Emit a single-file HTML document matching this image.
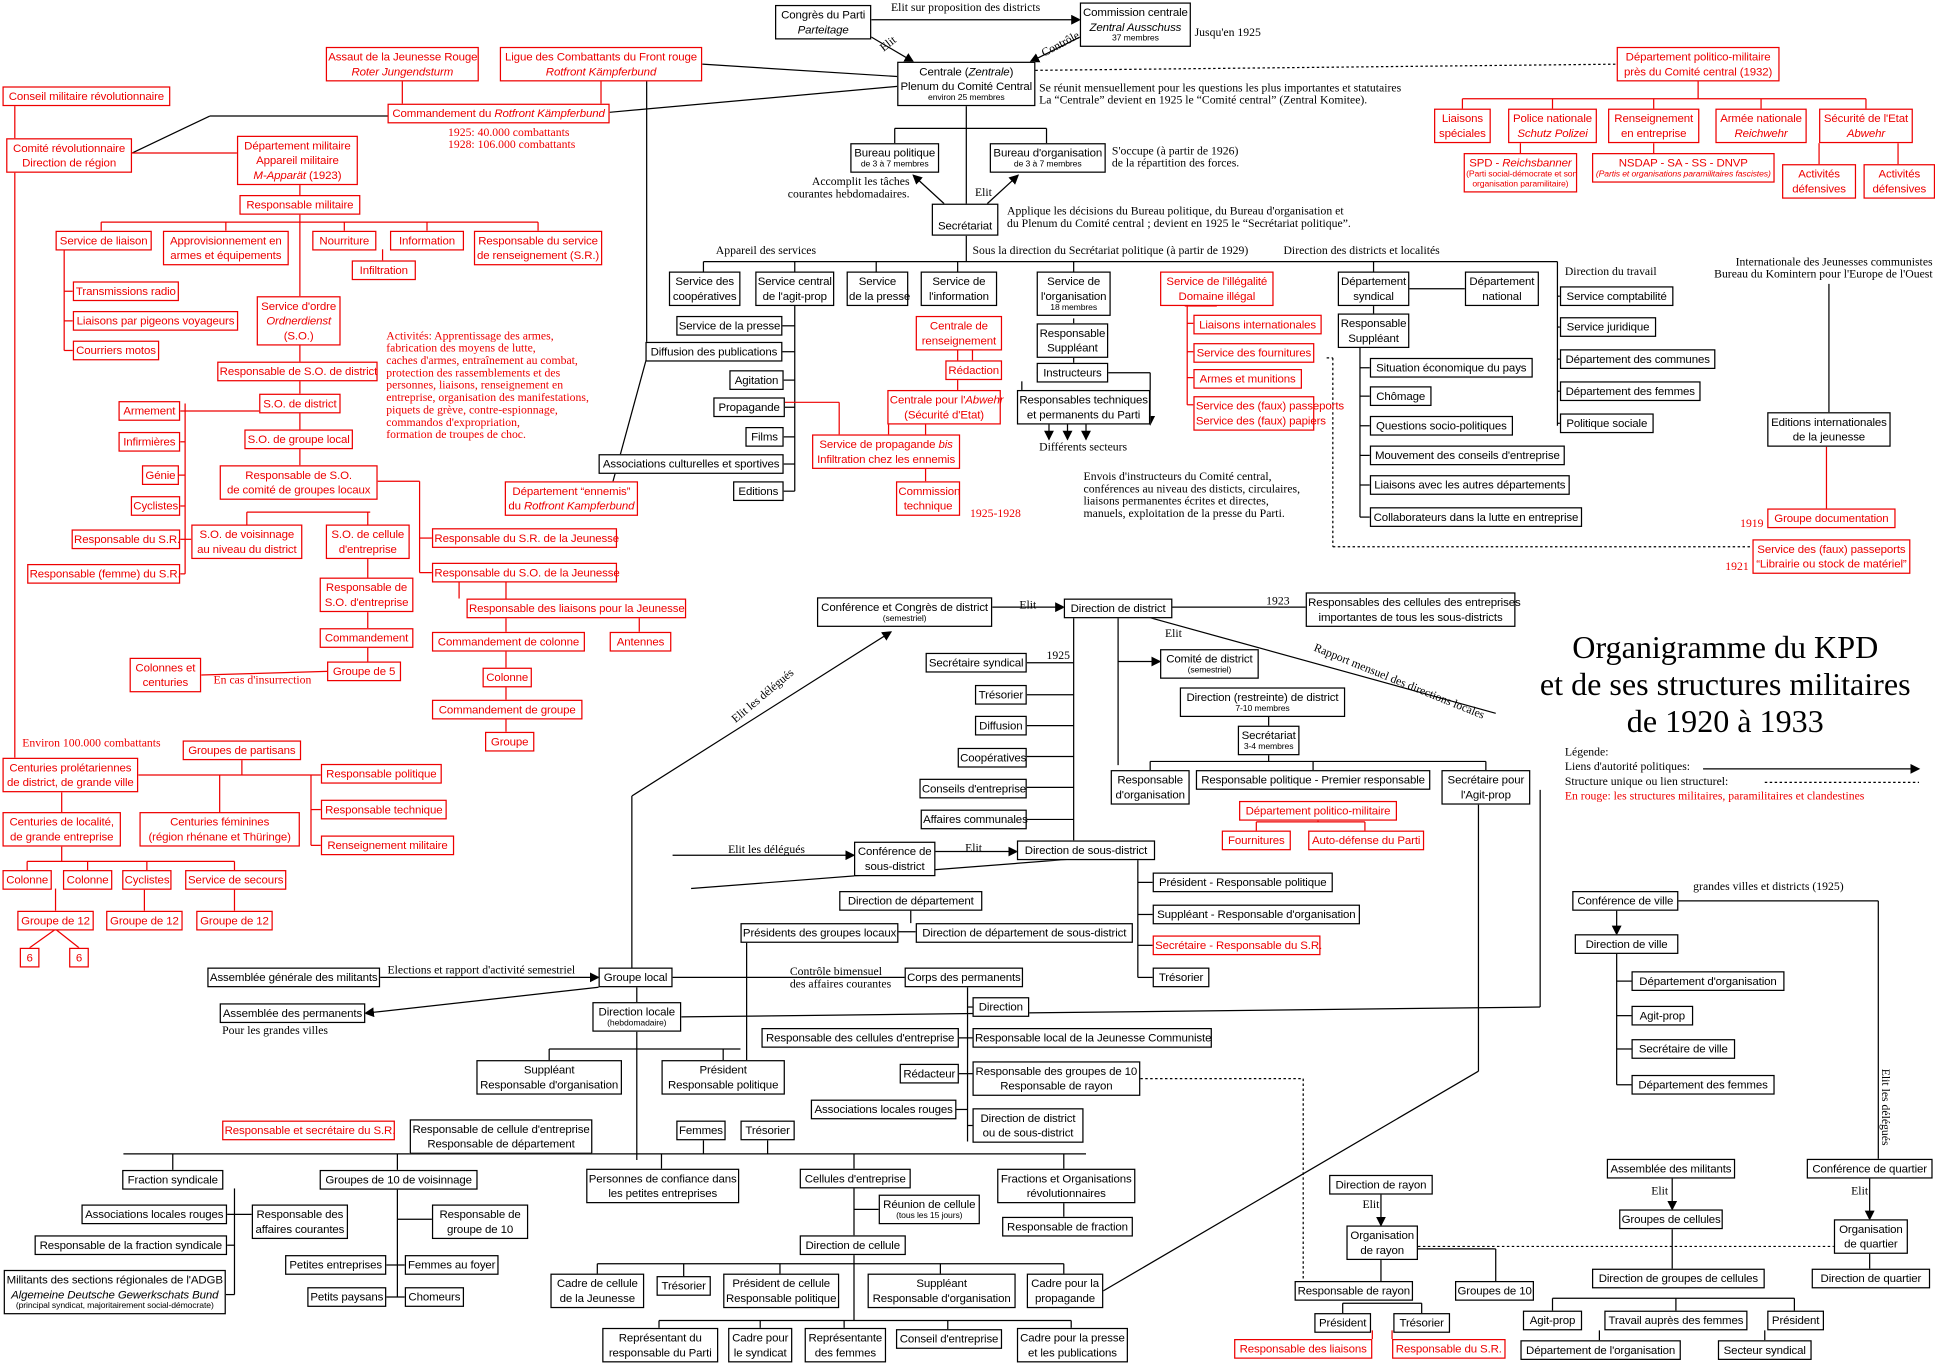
<!DOCTYPE html>
<html><head><meta charset="utf-8"><style>
html,body{margin:0;padding:0;background:#fff;width:1935px;height:1363px;overflow:hidden}
#w{position:absolute;left:0;top:0;width:1568px;height:1104px;transform:scale(1.2341);transform-origin:0 0;font-family:"Liberation Sans",sans-serif}
.b{position:absolute;border:1px solid #000;background:#fff;font-size:9.3px;line-height:12px;padding:1px 1px;text-align:center;white-space:nowrap;box-sizing:border-box;z-index:2;letter-spacing:-0.1px}
.r{color:#e00;border-color:#e00}
.t{position:absolute;font-family:"Liberation Serif",serif;font-size:9.5px;line-height:10px;white-space:nowrap;z-index:2}
.s{font-size:7px;line-height:8px;display:block}
svg{position:absolute;left:0;top:0;z-index:1}
</style></head><body><div id="w">
<svg width="1568" height="1104" viewBox="0 0 1568 1104">
<defs><marker id="a" markerWidth="8" markerHeight="8" refX="7" refY="4" orient="auto"><path d="M0,0 L8,4 L0,8z" fill="#000"/></marker></defs>
<g stroke="#000" stroke-width="1" fill="none">
<line x1="706" y1="16" x2="875" y2="16" marker-end="url(#a)"/>
<line x1="706" y1="30" x2="740" y2="50" marker-end="url(#a)"/>
<line x1="875" y1="30" x2="835" y2="50" marker-end="url(#a)"/>
<line x1="569" y1="52" x2="727" y2="62"/>
<line x1="783" y1="86" x2="783" y2="165"/>
<line x1="725" y1="104" x2="848" y2="104"/><line x1="725" y1="104" x2="725" y2="116"/><line x1="848" y1="104" x2="848" y2="116"/>
<line x1="765" y1="165" x2="740" y2="142" marker-end="url(#a)"/>
<line x1="800" y1="165" x2="825" y2="142" marker-end="url(#a)"/>
<line x1="783" y1="191" x2="783" y2="212"/>
<line x1="570" y1="212" x2="1262" y2="212"/>
<line x1="570" y1="212" x2="570" y2="220"/><line x1="644" y1="212" x2="644" y2="220"/><line x1="710" y1="212" x2="710" y2="220"/><line x1="776" y1="212" x2="776" y2="220"/><line x1="870" y1="212" x2="870" y2="220"/><line x1="1113" y1="212" x2="1113" y2="220"/><line x1="1262" y1="212" x2="1262" y2="345"/>
<line x1="1262" y1="240" x2="1264" y2="240"/><line x1="1262" y1="265" x2="1264" y2="265"/><line x1="1262" y1="291" x2="1264" y2="291"/><line x1="1262" y1="317" x2="1264" y2="317"/><line x1="1262" y1="343" x2="1264" y2="343"/>
<line x1="644" y1="248" x2="644" y2="398"/>
<line x1="634" y1="264" x2="644" y2="264"/><line x1="634" y1="285" x2="644" y2="285"/><line x1="635" y1="308" x2="644" y2="308"/><line x1="636" y1="330" x2="644" y2="330"/><line x1="635" y1="354" x2="644" y2="354"/><line x1="635" y1="376" x2="644" y2="376"/><line x1="635" y1="398" x2="644" y2="398"/>
<line x1="870" y1="258" x2="870" y2="262"/><line x1="870" y1="290" x2="870" y2="294"/><line x1="840" y1="302" x2="932" y2="302"/><line x1="932" y1="302" x2="932" y2="344" marker-end="url(#a)"/>
<line x1="828" y1="316" x2="828" y2="309"/>
<line x1="850" y1="344" x2="850" y2="356" marker-end="url(#a)"/><line x1="865" y1="344" x2="865" y2="356" marker-end="url(#a)"/><line x1="880" y1="344" x2="880" y2="356" marker-end="url(#a)"/>
<line x1="1142" y1="234" x2="1187" y2="234"/><line x1="1113" y1="248" x2="1113" y2="254"/>
<line x1="1102" y1="282" x2="1102" y2="419"/>
<line x1="1102" y1="298" x2="1110" y2="298"/><line x1="1102" y1="321" x2="1110" y2="321"/><line x1="1102" y1="345" x2="1110" y2="345"/><line x1="1102" y1="369" x2="1110" y2="369"/><line x1="1102" y1="393" x2="1110" y2="393"/><line x1="1102" y1="419" x2="1110" y2="419"/>
<line x1="1482" y1="230" x2="1482" y2="334"/>
<line x1="839" y1="57" x2="1310" y2="52" stroke-dasharray="2,2"/>
<line x1="1075" y1="290" x2="1080" y2="290" stroke-dasharray="2,2"/><line x1="1080" y1="290" x2="1080" y2="443" stroke-dasharray="2,2"/><line x1="1080" y1="443" x2="1420" y2="443" stroke-dasharray="2,2"/>
<line x1="107" y1="124" x2="170" y2="94" /><line x1="170" y1="94" x2="314" y2="94"/>
<line x1="494" y1="91" x2="727" y2="70"/>
<line x1="524" y1="66" x2="524" y2="290"/><line x1="524" y1="290" x2="494" y2="400"/>
<line x1="950" y1="492" x2="1058" y2="492" marker-start="url(#a)"/>
<line x1="804" y1="492" x2="862" y2="492" marker-end="url(#a)"/>
<line x1="870" y1="500" x2="870" y2="681"/>
<line x1="832" y1="537" x2="870" y2="537"/><line x1="832" y1="563" x2="870" y2="563"/><line x1="832" y1="588" x2="870" y2="588"/><line x1="832" y1="613" x2="870" y2="613"/><line x1="832" y1="638" x2="870" y2="638"/><line x1="832" y1="664" x2="870" y2="664"/>
<line x1="906" y1="500" x2="906" y2="620"/><line x1="906" y1="536" x2="940" y2="536" marker-end="url(#a)"/>
<line x1="930" y1="500" x2="1212" y2="578"/>
<line x1="1028" y1="580" x2="1028" y2="588"/><line x1="1028" y1="610" x2="1028" y2="617"/><line x1="932" y1="617" x2="1204" y2="617"/><line x1="932" y1="617" x2="932" y2="624"/><line x1="1064" y1="617" x2="1064" y2="624"/><line x1="1204" y1="617" x2="1204" y2="624"/>
<line x1="512" y1="784" x2="512" y2="645"/><line x1="512" y1="645" x2="722" y2="512" marker-end="url(#a)"/>
<line x1="545" y1="693" x2="692" y2="693" marker-end="url(#a)"/>
<line x1="758" y1="690" x2="824" y2="690" marker-end="url(#a)"/>
<line x1="922" y1="696" x2="922" y2="792"/><line x1="922" y1="715" x2="934" y2="715"/><line x1="922" y1="741" x2="934" y2="741"/><line x1="922" y1="766" x2="934" y2="766"/><line x1="922" y1="792" x2="934" y2="792"/>
<line x1="870" y1="696" x2="560" y2="720"/><line x1="738" y1="737" x2="738" y2="748"/><line x1="728" y1="755" x2="742" y2="755"/>
<line x1="308" y1="792" x2="485" y2="792" marker-end="url(#a)"/>
<line x1="545" y1="792" x2="733" y2="792"/>
<line x1="485" y1="800" x2="296" y2="821" marker-end="url(#a)"/>
<line x1="516" y1="800" x2="516" y2="812"/>
<line x1="516" y1="836" x2="516" y2="940"/>
<line x1="552" y1="824" x2="1248" y2="816" /><line x1="1248" y1="816" x2="1248" y2="640"/>
<line x1="445" y1="850" x2="600" y2="850"/><line x1="445" y1="850" x2="445" y2="859"/><line x1="586" y1="850" x2="586" y2="859"/>
<line x1="605" y1="859" x2="605" y2="755"/>
<line x1="784" y1="800" x2="784" y2="925"/><line x1="777" y1="841" x2="788" y2="841"/><line x1="777" y1="870" x2="788" y2="870"/><line x1="775" y1="899" x2="784" y2="899"/><line x1="784" y1="912" x2="788" y2="912"/>
<line x1="784" y1="816" x2="788" y2="816"/>
<line x1="924" y1="874" x2="1056" y2="874" stroke-dasharray="2,2"/><line x1="1056" y1="874" x2="1056" y2="1038" stroke-dasharray="2,2"/>
<line x1="100" y1="935" x2="880" y2="935"/>
<line x1="140" y1="935" x2="140" y2="948"/><line x1="322" y1="935" x2="322" y2="948"/><line x1="536" y1="935" x2="536" y2="947"/><line x1="692" y1="935" x2="692" y2="947"/><line x1="862" y1="935" x2="862" y2="947"/>
<line x1="356" y1="920" x2="356" y2="935"/><line x1="570" y1="924" x2="570" y2="935"/><line x1="622" y1="924" x2="622" y2="935"/>
<line x1="190" y1="963" x2="190" y2="1049"/><line x1="184" y1="984" x2="204" y2="984"/><line x1="184" y1="1009" x2="190" y2="1009"/><line x1="183" y1="1049" x2="190" y2="1049"/>
<line x1="322" y1="963" x2="322" y2="1051"/><line x1="322" y1="988" x2="350" y2="988"/><line x1="313" y1="1025" x2="328" y2="1025"/><line x1="313" y1="1051" x2="328" y2="1051"/>
<line x1="692" y1="963" x2="692" y2="1001"/><line x1="692" y1="980" x2="712" y2="980"/>
<line x1="692" y1="1017" x2="692" y2="1070"/><line x1="484" y1="1024" x2="862" y2="1024"/><line x1="484" y1="1024" x2="484" y2="1032"/><line x1="554" y1="1024" x2="554" y2="1034"/><line x1="632" y1="1024" x2="632" y2="1032"/><line x1="762" y1="1024" x2="762" y2="1032"/><line x1="862" y1="1024" x2="862" y2="1032"/>
<line x1="534" y1="1070" x2="868" y2="1070"/><line x1="534" y1="1070" x2="534" y2="1076"/><line x1="616" y1="1070" x2="616" y2="1076"/><line x1="684" y1="1070" x2="684" y2="1076"/><line x1="768" y1="1070" x2="768" y2="1077"/><line x1="868" y1="1070" x2="868" y2="1076"/>
<line x1="862" y1="966" x2="862" y2="986"/>
<line x1="894" y1="1046" x2="1198" y2="868"/><line x1="1198" y1="868" x2="1198" y2="652"/>
<line x1="1119" y1="967" x2="1119" y2="993" marker-end="url(#a)"/>
<line x1="1119" y1="1021" x2="1119" y2="1038"/><line x1="1149" y1="1012" x2="1212" y2="1012"/><line x1="1212" y1="1012" x2="1212" y2="1038"/>
<line x1="1088" y1="1056" x2="1152" y2="1056"/><line x1="1088" y1="1056" x2="1088" y2="1064"/><line x1="1152" y1="1056" x2="1152" y2="1064"/>
<line x1="1149" y1="1010" x2="1486" y2="1010" stroke-dasharray="2,2"/>
<line x1="1310" y1="737" x2="1310" y2="757" marker-end="url(#a)"/>
<line x1="1310" y1="772" x2="1310" y2="879"/><line x1="1310" y1="795" x2="1322" y2="795"/><line x1="1310" y1="823" x2="1322" y2="823"/><line x1="1310" y1="850" x2="1322" y2="850"/><line x1="1310" y1="879" x2="1322" y2="879"/>
<line x1="1360" y1="730" x2="1522" y2="730"/><line x1="1522" y1="730" x2="1522" y2="939"/>
<line x1="1355" y1="954" x2="1355" y2="980" marker-end="url(#a)"/>
<line x1="1515" y1="954" x2="1515" y2="988" marker-end="url(#a)"/>
<line x1="1355" y1="996" x2="1355" y2="1028"/><line x1="1515" y1="1016" x2="1515" y2="1028"/>
<line x1="1258" y1="1052" x2="1454" y2="1052"/><line x1="1258" y1="1052" x2="1258" y2="1062"/><line x1="1358" y1="1052" x2="1358" y2="1062"/><line x1="1454" y1="1052" x2="1454" y2="1062"/>
<line x1="1296" y1="1078" x2="1296" y2="1086"/><line x1="1430" y1="1078" x2="1430" y2="1086"/>
<line x1="1380" y1="623" x2="1555" y2="623" marker-end="url(#a)"/>
<line x1="1430" y1="634" x2="1555" y2="634" stroke-dasharray="2,2"/>
</g>
<g stroke="#e00" stroke-width="1" fill="none">
<line x1="12" y1="85" x2="12" y2="112"/>
<line x1="12" y1="138" x2="12" y2="614"/>
<line x1="107" y1="124" x2="192" y2="124"/>
<line x1="326" y1="66" x2="326" y2="84"/><line x1="487" y1="66" x2="487" y2="84"/>
<line x1="243" y1="148" x2="243" y2="158"/>
<line x1="82" y1="180" x2="436" y2="180"/><line x1="243" y1="173" x2="243" y2="240"/>
<line x1="82" y1="180" x2="82" y2="187"/><line x1="183" y1="180" x2="183" y2="187"/><line x1="279" y1="180" x2="279" y2="187"/><line x1="346" y1="180" x2="346" y2="187"/><line x1="436" y1="180" x2="436" y2="187"/><line x1="310" y1="202" x2="310" y2="211"/>
<line x1="52" y1="202" x2="52" y2="284"/><line x1="52" y1="236" x2="59" y2="236"/><line x1="52" y1="260" x2="59" y2="260"/><line x1="52" y1="284" x2="59" y2="284"/>
<line x1="243" y1="278" x2="243" y2="293"/><line x1="243" y1="308" x2="243" y2="319"/><line x1="243" y1="334" x2="243" y2="348"/><line x1="243" y1="363" x2="243" y2="377"/>
<line x1="150" y1="327" x2="150" y2="465"/><line x1="146" y1="333" x2="210" y2="333"/><line x1="146" y1="358" x2="150" y2="358"/><line x1="145" y1="385" x2="150" y2="385"/><line x1="146" y1="410" x2="150" y2="410"/><line x1="146" y1="437" x2="155" y2="437"/><line x1="146" y1="465" x2="150" y2="465"/>
<line x1="306" y1="390" x2="340" y2="390"/><line x1="340" y1="390" x2="340" y2="464"/><line x1="340" y1="436" x2="350" y2="436"/><line x1="340" y1="464" x2="350" y2="464"/>
<line x1="200" y1="415" x2="300" y2="415"/><line x1="200" y1="415" x2="200" y2="425"/><line x1="298" y1="415" x2="298" y2="425"/>
<line x1="298" y1="453" x2="298" y2="468"/><line x1="298" y1="496" x2="298" y2="509"/><line x1="298" y1="524" x2="298" y2="536"/>
<line x1="163" y1="547" x2="265" y2="544"/>
<line x1="372" y1="472" x2="372" y2="485"/><line x1="410" y1="472" x2="410" y2="512"/><line x1="518" y1="500" x2="518" y2="512"/>
<line x1="410" y1="527" x2="410" y2="541"/><line x1="410" y1="556" x2="410" y2="567"/><line x1="410" y1="582" x2="410" y2="593"/>
<line x1="112" y1="628" x2="260" y2="628"/><line x1="196" y1="615" x2="196" y2="628"/><line x1="252" y1="628" x2="252" y2="685"/><line x1="252" y1="656" x2="260" y2="656"/><line x1="252" y1="685" x2="260" y2="685"/>
<line x1="50" y1="642" x2="50" y2="658"/><line x1="178" y1="628" x2="178" y2="658"/>
<line x1="50" y1="686" x2="50" y2="698"/><line x1="22" y1="698" x2="190" y2="698"/><line x1="22" y1="698" x2="22" y2="705"/><line x1="71" y1="698" x2="71" y2="705"/><line x1="119" y1="698" x2="119" y2="705"/><line x1="190" y1="698" x2="190" y2="705"/>
<line x1="45" y1="720" x2="45" y2="738"/><line x1="117" y1="720" x2="117" y2="738"/><line x1="190" y1="720" x2="190" y2="738"/>
<line x1="45" y1="753" x2="24" y2="768"/><line x1="45" y1="753" x2="64" y2="768"/>
<line x1="776" y1="284" x2="776" y2="316"/><line x1="788" y1="284" x2="788" y2="292"/>
<line x1="720" y1="344" x2="720" y2="352"/><line x1="750" y1="344" x2="750" y2="390"/>
<line x1="636" y1="326" x2="680" y2="326"/><line x1="680" y1="326" x2="680" y2="352"/>
<line x1="986" y1="248" x2="960" y2="248"/><line x1="962" y1="248" x2="962" y2="328"/><line x1="962" y1="262" x2="967" y2="262"/><line x1="962" y1="285" x2="967" y2="285"/><line x1="962" y1="306" x2="967" y2="306"/><line x1="962" y1="328" x2="967" y2="328"/>
<line x1="1376" y1="66" x2="1376" y2="80"/><line x1="1185" y1="80" x2="1512" y2="80"/><line x1="1185" y1="80" x2="1185" y2="88"/><line x1="1258" y1="80" x2="1258" y2="88"/><line x1="1340" y1="80" x2="1340" y2="88"/><line x1="1427" y1="80" x2="1427" y2="88"/><line x1="1512" y1="80" x2="1512" y2="88"/>
<line x1="1232" y1="116" x2="1232" y2="124"/><line x1="1340" y1="116" x2="1340" y2="124"/><line x1="1474" y1="116" x2="1474" y2="133"/><line x1="1538" y1="116" x2="1538" y2="133"/>
<line x1="1068" y1="656" x2="1068" y2="666"/><line x1="1018" y1="666" x2="1106" y2="666"/><line x1="1018" y1="666" x2="1018" y2="673"/><line x1="1106" y1="666" x2="1106" y2="673"/>
<line x1="1112" y1="1078" x2="1112" y2="1085"/><line x1="1128" y1="1078" x2="1128" y2="1085"/>
<line x1="1480" y1="362" x2="1480" y2="412"/>
</g>
<g font-family="Liberation Serif,serif" font-size="9.5">
<text transform="translate(716,42) rotate(-38)">Elit</text>
<text transform="translate(846,46) rotate(-28)">Contrôle</text>
<text transform="translate(596,586) rotate(-40)">Elit les délégués</text>
<text transform="translate(1064,527) rotate(22)">Rapport mensuel des directions locales</text>
<text transform="translate(1525,866) rotate(90)">Elit les délégués</text>
</g>
</svg>

<div class="b" style="left:628px;top:4px;width:78px">Congrès du Parti<br><i>Parteitage</i></div>
<div class="b" style="left:875px;top:2px;width:90px">Commission centrale<br><i>Zentral Ausschuss</i><span class="s">37 membres</span></div>
<div class="t" style="left:722px;top:2px">Elit sur proposition des districts</div>
<div class="t" style="left:968px;top:22px">Jusqu'en 1925</div>
<div class="b" style="left:727px;top:50px;width:112px">Centrale (<i>Zentrale</i>)<br>Plenum du Comité Central<span class="s">environ 25 membres</span></div>
<div class="t" style="left:842px;top:67px">Se réunit mensuellement pour les questions les plus importantes et statutaires<br>La “Centrale” devient en 1925 le “Comité central” (Zentral Komitee).</div>
<div class="b" style="left:689px;top:116px;width:72px">Bureau politique<span class="s">de 3 à 7 membres</span></div>
<div class="b" style="left:802px;top:116px;width:94px">Bureau d'organisation<span class="s">de 3 à 7 membres</span></div>
<div class="t" style="left:901px;top:118px">S'occupe (à partir de 1926)<br>de la répartition des forces.</div>
<div class="t" style="left:633px;top:143px;text-align:right;width:104px">Accomplit les tâches<br>courantes hebdomadaires.</div>
<div class="t" style="left:790px;top:152px">Elit</div>
<div class="b" style="left:755px;top:165px;width:54px;padding-top:11px">Secrétariat</div>
<div class="t" style="left:816px;top:167px">Applique les décisions du Bureau politique, du Bureau d'organisation et<br>du Plenum du Comité central ; devient en 1925 le “Secrétariat politique”.</div>
<div class="t" style="left:788px;top:199px">Sous la direction du Secrétariat politique (à partir de 1929)</div>
<div class="t" style="left:580px;top:199px">Appareil des services</div>
<div class="t" style="left:1040px;top:199px">Direction des districts et localités</div>

<div class="b r" style="left:264px;top:38px;width:124px">Assaut de la Jeunesse Rouge<br><i>Roter Jungendsturm</i></div>
<div class="b r" style="left:405px;top:38px;width:164px">Ligue des Combattants du Front rouge<br><i>Rotfront Kämpferbund</i></div>
<div class="b r" style="left:314px;top:84px;width:180px">Commandement du <i>Rotfront Kämpferbund</i></div>
<div class="t" style="left:363px;top:103px;color:#e00">1925: 40.000 combattants<br>1928: 106.000 combattants</div>
<div class="b r" style="left:2px;top:70px;width:136px">Conseil militaire révolutionnaire</div>
<div class="b r" style="left:5px;top:112px;width:102px">Comité révolutionnaire<br>Direction de région</div>
<div class="b r" style="left:192px;top:110px;width:98px">Département militaire<br>Appareil militaire<br><i>M-Apparät</i> (1923)</div>
<div class="b r" style="left:194px;top:158px;width:98px">Responsable militaire</div>
<div class="b r" style="left:45px;top:187px;width:78px">Service de liaison</div>
<div class="b r" style="left:132px;top:187px;width:102px">Approvisionnement en<br>armes et équipements</div>
<div class="b r" style="left:253px;top:187px;width:52px">Nourriture</div>
<div class="b r" style="left:316px;top:187px;width:60px">Information</div>
<div class="b r" style="left:384px;top:187px;width:104px">Responsable du service<br>de renseignement (S.R.)</div>
<div class="b r" style="left:285px;top:211px;width:52px">Infiltration</div>
<div class="b r" style="left:59px;top:228px;width:86px">Transmissions radio</div>
<div class="b r" style="left:59px;top:252px;width:134px">Liaisons par pigeons voyageurs</div>
<div class="b r" style="left:59px;top:276px;width:70px">Courriers motos</div>
<div class="b r" style="left:208px;top:240px;width:68px">Service d'ordre<br><i>Ordnerdienst</i><br>(S.O.)</div>
<div class="t" style="left:313px;top:268px;color:#e00">Activités: Apprentissage des armes,<br>fabrication des moyens de lutte,<br>caches d'armes, entraînement au combat,<br>protection des rassemblements et des<br>personnes, liaisons, renseignement en<br>entreprise, organisation des manifestations,<br>piquets de grève, contre-espionnage,<br>commandos d'expropriation,<br>formation de troupes de choc.</div>
<div class="b r" style="left:176px;top:293px;width:130px">Responsable de S.O. de district</div>
<div class="b r" style="left:210px;top:319px;width:66px">S.O. de district</div>
<div class="b r" style="left:198px;top:348px;width:88px">S.O. de groupe local</div>
<div class="b r" style="left:178px;top:377px;width:128px">Responsable de S.O.<br>de comité de groupes locaux</div>
<div class="b r" style="left:96px;top:325px;width:50px">Armement</div>
<div class="b r" style="left:96px;top:350px;width:50px">Infirmières</div>
<div class="b r" style="left:115px;top:377px;width:30px">Génie</div>
<div class="b r" style="left:106px;top:402px;width:40px">Cyclistes</div>
<div class="b r" style="left:58px;top:429px;width:88px">Responsable du S.R.</div>
<div class="b r" style="left:22px;top:457px;width:124px">Responsable (femme) du S.R.</div>
<div class="b r" style="left:155px;top:425px;width:90px">S.O. de voisinnage<br>au niveau du district</div>
<div class="b r" style="left:264px;top:425px;width:68px">S.O. de cellule<br>d'entreprise</div>
<div class="b r" style="left:259px;top:468px;width:76px">Responsable de<br>S.O. d'entreprise</div>
<div class="b r" style="left:259px;top:509px;width:76px">Commandement</div>
<div class="b r" style="left:265px;top:536px;width:60px">Groupe de 5</div>
<div class="b r" style="left:105px;top:533px;width:58px">Colonnes et<br>centuries</div>
<div class="t" style="left:173px;top:547px;color:#e00">En cas d'insurrection</div>
<div class="b r" style="left:409px;top:390px;width:108px">Département “ennemis”<br>du <i>Rotfront Kampferbund</i></div>
<div class="b r" style="left:350px;top:428px;width:150px">Responsable du S.R. de la Jeunesse</div>
<div class="b r" style="left:350px;top:456px;width:150px">Responsable du S.O. de la Jeunesse</div>
<div class="b r" style="left:378px;top:485px;width:178px">Responsable des liaisons pour la Jeunesse</div>
<div class="b r" style="left:350px;top:512px;width:124px">Commandement de colonne</div>
<div class="b r" style="left:494px;top:512px;width:50px">Antennes</div>
<div class="b r" style="left:391px;top:541px;width:40px">Colonne</div>
<div class="b r" style="left:350px;top:567px;width:122px">Commandement de groupe</div>
<div class="b r" style="left:393px;top:593px;width:40px">Groupe</div>
<div class="t" style="left:18px;top:598px;color:#e00">Environ 100.000 combattants</div>
<div class="b r" style="left:2px;top:614px;width:110px">Centuries prolétariennes<br>de district, de grande ville</div>
<div class="b r" style="left:148px;top:600px;width:96px">Groupes de partisans</div>
<div class="b r" style="left:260px;top:619px;width:98px">Responsable politique</div>
<div class="b r" style="left:260px;top:648px;width:102px">Responsable technique</div>
<div class="b r" style="left:260px;top:677px;width:108px">Renseignement militaire</div>
<div class="b r" style="left:2px;top:658px;width:96px">Centuries de localité,<br>de grande entreprise</div>
<div class="b r" style="left:113px;top:658px;width:130px">Centuries féminines<br>(région rhénane et Thüringe)</div>
<div class="b r" style="left:2px;top:705px;width:40px">Colonne</div>
<div class="b r" style="left:51px;top:705px;width:40px">Colonne</div>
<div class="b r" style="left:99px;top:705px;width:40px">Cyclistes</div>
<div class="b r" style="left:150px;top:705px;width:82px">Service de secours</div>
<div class="b r" style="left:14px;top:738px;width:62px">Groupe de 12</div>
<div class="b r" style="left:86px;top:738px;width:62px">Groupe de 12</div>
<div class="b r" style="left:159px;top:738px;width:62px">Groupe de 12</div>
<div class="b r" style="left:16px;top:768px;width:16px">6</div>
<div class="b r" style="left:56px;top:768px;width:16px">6</div>

<div class="b" style="left:542px;top:220px;width:58px">Service des<br>coopératives</div>
<div class="b" style="left:612px;top:220px;width:64px">Service central<br>de l'agit-prop</div>
<div class="b" style="left:686px;top:220px;width:50px">Service<br>de la presse</div>
<div class="b" style="left:746px;top:220px;width:62px">Service de<br>l'information</div>
<div class="b" style="left:548px;top:256px;width:86px">Service de la presse</div>
<div class="b" style="left:523px;top:277px;width:111px">Diffusion des publications</div>
<div class="b" style="left:591px;top:300px;width:44px">Agitation</div>
<div class="b" style="left:578px;top:322px;width:58px">Propagande</div>
<div class="b" style="left:604px;top:346px;width:31px">Films</div>
<div class="b" style="left:485px;top:368px;width:150px">Associations culturelles et sportives</div>
<div class="b" style="left:594px;top:390px;width:41px">Editions</div>
<div class="b r" style="left:742px;top:256px;width:70px">Centrale de<br>renseignement</div>
<div class="b r" style="left:766px;top:292px;width:46px">Rédaction</div>
<div class="b r" style="left:719px;top:316px;width:92px">Centrale pour l'<i>Abwehr</i><br>(Sécurité d'Etat)</div>
<div class="b r" style="left:658px;top:352px;width:120px">Service de propagande <i>bis</i><br>Infiltration chez les ennemis</div>
<div class="b r" style="left:726px;top:390px;width:52px">Commission<br>technique</div>
<div class="t" style="left:786px;top:412px;color:#e00">1925-1928</div>
<div class="b" style="left:840px;top:220px;width:60px">Service de<br>l'organisation<span class="s">18 membres</span></div>
<div class="b" style="left:840px;top:262px;width:58px">Responsable<br>Suppléant</div>
<div class="b" style="left:840px;top:294px;width:58px">Instructeurs</div>
<div class="b" style="left:824px;top:316px;width:108px">Responsables techniques<br>et permanents du Parti</div>
<div class="t" style="left:842px;top:358px">Différents secteurs</div>
<div class="t" style="left:878px;top:382px">Envois d'instructeurs du Comité central,<br>conférences au niveau des disticts, circulaires,<br>liaisons permanentes écrites et directes,<br>manuels, exploitation de la presse du Parti.</div>
<div class="b r" style="left:940px;top:220px;width:92px">Service de l'illégalité<br>Domaine illégal</div>
<div class="b r" style="left:967px;top:255px;width:104px">Liaisons internationales</div>
<div class="b r" style="left:967px;top:278px;width:98px">Service des fournitures</div>
<div class="b r" style="left:967px;top:299px;width:88px">Armes et munitions</div>
<div class="b r" style="left:967px;top:321px;width:98px">Service des (faux) passeports<br>Service des (faux) papiers</div>
<div class="b" style="left:1084px;top:220px;width:58px">Département<br>syndical</div>
<div class="b" style="left:1187px;top:220px;width:60px">Département<br>national</div>
<div class="b" style="left:1084px;top:254px;width:58px">Responsable<br>Suppléant</div>
<div class="b" style="left:1110px;top:290px;width:132px">Situation économique du pays</div>
<div class="b" style="left:1110px;top:313px;width:50px">Chômage</div>
<div class="b" style="left:1110px;top:337px;width:116px">Questions socio-politiques</div>
<div class="b" style="left:1110px;top:361px;width:158px">Mouvement des conseils d'entreprise</div>
<div class="b" style="left:1110px;top:385px;width:162px">Liaisons avec les autres départements</div>
<div class="b" style="left:1110px;top:411px;width:172px">Collaborateurs dans la lutte en entreprise</div>
<div class="t" style="left:1268px;top:216px">Direction du travail</div>
<div class="b" style="left:1264px;top:232px;width:92px">Service comptabilité</div>
<div class="b" style="left:1264px;top:257px;width:78px">Service juridique</div>
<div class="b" style="left:1264px;top:283px;width:126px">Département des communes</div>
<div class="b" style="left:1264px;top:309px;width:114px">Département des femmes</div>
<div class="b" style="left:1264px;top:335px;width:76px">Politique sociale</div>
<div class="t" style="left:1372px;top:208px;width:194px;text-align:right">Internationale des Jeunesses communistes<br>Bureau du Komintern pour l'Europe de l'Ouest</div>
<div class="b" style="left:1432px;top:334px;width:100px">Editions internationales<br>de la jeunesse</div>
<div class="b r" style="left:1432px;top:412px;width:104px">Groupe documentation</div>
<div class="t" style="left:1410px;top:420px;color:#e00">1919</div>
<div class="b r" style="left:1420px;top:437px;width:128px">Service des (faux) passeports<br>“Librairie ou stock de matériel”</div>
<div class="t" style="left:1398px;top:455px;color:#e00">1921</div>

<div class="b r" style="left:1310px;top:38px;width:132px">Département politico-militaire<br>près du Comité central (1932)</div>
<div class="b r" style="left:1162px;top:88px;width:46px">Liaisons<br>spéciales</div>
<div class="b r" style="left:1222px;top:88px;width:72px">Police nationale<br><i>Schutz Polizei</i></div>
<div class="b r" style="left:1303px;top:88px;width:74px">Renseignement<br>en entreprise</div>
<div class="b r" style="left:1390px;top:88px;width:74px">Armée nationale<br><i>Reichwehr</i></div>
<div class="b r" style="left:1474px;top:88px;width:76px">Sécurité de l'Etat<br><i>Abwehr</i></div>
<div class="b r" style="left:1186px;top:124px;width:92px">SPD - <i>Reichsbanner</i><span class="s">(Parti social-démocrate et son<br>organisation paramilitaire)</span></div>
<div class="b r" style="left:1290px;top:124px;width:148px">NSDAP - SA - SS - DNVP<span class="s"><i>(Partis et organisations paramilitaires fascistes)</i></span></div>
<div class="b r" style="left:1444px;top:133px;width:60px">Activités<br>défensives</div>
<div class="b r" style="left:1510px;top:133px;width:58px">Activités<br>défensives</div>

<div class="b" style="left:662px;top:484px;width:142px">Conférence et Congrès de district<span class="s">(semestriel)</span></div>
<div class="t" style="left:826px;top:486px">Elit</div>
<div class="b" style="left:862px;top:485px;width:88px">Direction de district</div>
<div class="t" style="left:1026px;top:483px">1923</div>
<div class="b" style="left:1058px;top:480px;width:170px">Responsables des cellules des entreprises<br>importantes de tous les sous-districts</div>
<div class="t" style="left:944px;top:509px">Elit</div>
<div class="b" style="left:940px;top:526px;width:80px">Comité de district<span class="s">(semestriel)</span></div>
<div class="b" style="left:750px;top:529px;width:82px">Secrétaire syndical</div>
<div class="t" style="left:848px;top:527px">1925</div>
<div class="b" style="left:790px;top:555px;width:42px">Trésorier</div>
<div class="b" style="left:790px;top:580px;width:42px">Diffusion</div>
<div class="b" style="left:776px;top:606px;width:56px">Coopératives</div>
<div class="b" style="left:745px;top:631px;width:87px">Conseils d'entreprise</div>
<div class="b" style="left:746px;top:656px;width:86px">Affaires communales</div>
<div class="b" style="left:956px;top:557px;width:134px">Direction (restreinte) de district<span class="s">7-10 membres</span></div>
<div class="b" style="left:1003px;top:588px;width:50px">Secrétariat<span class="s">3-4 membres</span></div>
<div class="b" style="left:900px;top:624px;width:64px">Responsable<br>d'organisation</div>
<div class="b" style="left:969px;top:624px;width:190px">Responsable politique - Premier responsable</div>
<div class="b" style="left:1168px;top:624px;width:72px">Secrétaire pour<br>l'Agit-prop</div>
<div class="b r" style="left:1004px;top:649px;width:128px">Département politico-militaire</div>
<div class="b r" style="left:990px;top:673px;width:56px">Fournitures</div>
<div class="b r" style="left:1060px;top:673px;width:94px">Auto-défense du Parti</div>
<div style="position:absolute;left:1228px;top:510px;width:340px;text-align:center;font-family:'Liberation Serif',serif;font-size:26px;line-height:30px">Organigramme du KPD<br>et de ses structures militaires<br>de 1920 à 1933</div>
<div class="t" style="left:1268px;top:604px;line-height:12px">Légende:<br>Liens d'autorité politiques:<br>Structure unique ou lien structurel:<br><span style="color:#e00">En rouge: les structures militaires, paramilitaires et clandestines</span></div>

<div class="t" style="left:590px;top:684px">Elit les délégués</div>
<div class="b" style="left:692px;top:682px;width:66px">Conférence de<br>sous-district</div>
<div class="t" style="left:782px;top:683px">Elit</div>
<div class="b" style="left:824px;top:681px;width:112px">Direction de sous-district</div>
<div class="b" style="left:680px;top:722px;width:116px">Direction de département</div>
<div class="b" style="left:600px;top:748px;width:128px">Présidents des groupes locaux</div>
<div class="b" style="left:742px;top:748px;width:176px">Direction de département de sous-district</div>
<div class="b" style="left:934px;top:707px;width:146px">Président - Responsable politique</div>
<div class="b" style="left:934px;top:733px;width:168px">Suppléant - Responsable d'organisation</div>
<div class="b r" style="left:934px;top:758px;width:136px">Secrétaire - Responsable du S.R.</div>
<div class="b" style="left:934px;top:784px;width:46px">Trésorier</div>
<div class="b" style="left:168px;top:784px;width:140px">Assemblée générale des militants</div>
<div class="t" style="left:314px;top:782px">Elections et rapport d'activité semestriel</div>
<div class="b" style="left:485px;top:784px;width:60px">Groupe local</div>
<div class="t" style="left:640px;top:783px">Contrôle bimensuel<br>des affaires courantes</div>
<div class="b" style="left:733px;top:784px;width:96px">Corps des permanents</div>
<div class="b" style="left:178px;top:813px;width:118px">Assemblée des permanents</div>
<div class="t" style="left:180px;top:831px">Pour les grandes villes</div>
<div class="b" style="left:480px;top:812px;width:72px">Direction locale<span class="s">(hebdomadaire)</span></div>
<div class="b" style="left:788px;top:808px;width:46px">Direction</div>
<div class="b" style="left:617px;top:833px;width:160px">Responsable des cellules d'entreprise</div>
<div class="b" style="left:788px;top:833px;width:194px">Responsable local de la Jeunesse Communiste</div>
<div class="b" style="left:386px;top:859px;width:118px">Suppléant<br>Responsable d'organisation</div>
<div class="b" style="left:536px;top:859px;width:100px">Président<br>Responsable politique</div>
<div class="b" style="left:729px;top:862px;width:48px">Rédacteur</div>
<div class="b" style="left:788px;top:860px;width:136px">Responsable des groupes de 10<br>Responsable de rayon</div>
<div class="b" style="left:657px;top:891px;width:118px">Associations locales rouges</div>
<div class="b" style="left:788px;top:898px;width:90px">Direction de district<br>ou de sous-district</div>
<div class="b r" style="left:180px;top:908px;width:140px">Responsable et secrétaire du S.R.</div>
<div class="b" style="left:332px;top:907px;width:148px">Responsable de cellule d'entreprise<br>Responsable de département</div>
<div class="b" style="left:548px;top:908px;width:40px">Femmes</div>
<div class="b" style="left:600px;top:908px;width:44px">Trésorier</div>
<div class="b" style="left:99px;top:948px;width:82px">Fraction syndicale</div>
<div class="b" style="left:259px;top:948px;width:128px">Groupes de 10 de voisinnage</div>
<div class="b" style="left:475px;top:947px;width:124px">Personnes de confiance dans<br>les petites entreprises</div>
<div class="b" style="left:648px;top:947px;width:90px">Cellules d'entreprise</div>
<div class="b" style="left:808px;top:947px;width:112px">Fractions et Organisations<br>révolutionnaires</div>
<div class="b" style="left:66px;top:976px;width:118px">Associations locales rouges</div>
<div class="b" style="left:204px;top:976px;width:78px">Responsable des<br>affaires courantes</div>
<div class="b" style="left:350px;top:976px;width:78px">Responsable de<br>groupe de 10</div>
<div class="b" style="left:712px;top:968px;width:82px">Réunion de cellule<span class="s">(tous les 15 jours)</span></div>
<div class="b" style="left:812px;top:986px;width:106px">Responsable de fraction</div>
<div class="b" style="left:28px;top:1001px;width:156px">Responsable de la fraction syndicale</div>
<div class="b" style="left:648px;top:1001px;width:86px">Direction de cellule</div>
<div class="b" style="left:231px;top:1017px;width:82px">Petites entreprises</div>
<div class="b" style="left:328px;top:1017px;width:76px">Femmes au foyer</div>
<div class="b" style="left:3px;top:1029px;width:180px">Militants des sections régionales de l'ADGB<br><i>Algemeine Deutsche Gewerkschats Bund</i><span class="s">(principal syndicat, majoritairement social-démocrate)</span></div>
<div class="b" style="left:249px;top:1043px;width:64px">Petits paysans</div>
<div class="b" style="left:328px;top:1043px;width:48px">Chomeurs</div>
<div class="b" style="left:446px;top:1032px;width:76px">Cadre de cellule<br>de la Jeunesse</div>
<div class="b" style="left:532px;top:1034px;width:44px">Trésorier</div>
<div class="b" style="left:586px;top:1032px;width:94px">Président de cellule<br>Responsable politique</div>
<div class="b" style="left:703px;top:1032px;width:120px">Suppléant<br>Responsable d'organisation</div>
<div class="b" style="left:832px;top:1032px;width:62px">Cadre pour la<br>propagande</div>
<div class="b" style="left:488px;top:1076px;width:94px">Représentant du<br>responsable du Parti</div>
<div class="b" style="left:590px;top:1076px;width:52px">Cadre pour<br>le syndicat</div>
<div class="b" style="left:652px;top:1076px;width:66px">Représentante<br>des femmes</div>
<div class="b" style="left:726px;top:1077px;width:86px">Conseil d'entreprise</div>
<div class="b" style="left:824px;top:1076px;width:90px">Cadre pour la presse<br>et les publications</div>

<div class="b" style="left:1077px;top:952px;width:84px">Direction de rayon</div>
<div class="t" style="left:1104px;top:972px">Elit</div>
<div class="b" style="left:1091px;top:993px;width:58px">Organisation<br>de rayon</div>
<div class="b" style="left:1049px;top:1038px;width:96px">Responsable de rayon</div>
<div class="b" style="left:1179px;top:1038px;width:64px">Groupes de 10</div>
<div class="b" style="left:1065px;top:1064px;width:46px">Président</div>
<div class="b" style="left:1129px;top:1064px;width:46px">Trésorier</div>
<div class="b r" style="left:1000px;top:1085px;width:112px">Responsable des liaisons</div>
<div class="b r" style="left:1128px;top:1085px;width:92px">Responsable du S.R.</div>
<div class="b" style="left:1274px;top:722px;width:86px">Conférence de ville</div>
<div class="t" style="left:1372px;top:714px">grandes villes et districts (1925)</div>
<div class="b" style="left:1276px;top:757px;width:84px">Direction de ville</div>
<div class="b" style="left:1322px;top:787px;width:124px">Département d'organisation</div>
<div class="b" style="left:1322px;top:815px;width:50px">Agit-prop</div>
<div class="b" style="left:1322px;top:842px;width:84px">Secrétaire de ville</div>
<div class="b" style="left:1322px;top:871px;width:116px">Département des femmes</div>
<div class="b" style="left:1302px;top:939px;width:104px">Assemblée des militants</div>
<div class="t" style="left:1338px;top:961px">Elit</div>
<div class="b" style="left:1312px;top:980px;width:84px">Groupes de cellules</div>
<div class="b" style="left:1290px;top:1028px;width:140px">Direction de groupes de cellules</div>
<div class="b" style="left:1234px;top:1062px;width:48px">Agit-prop</div>
<div class="b" style="left:1300px;top:1062px;width:116px">Travail auprès des femmes</div>
<div class="b" style="left:1432px;top:1062px;width:46px">Président</div>
<div class="b" style="left:1232px;top:1086px;width:130px">Département de l'organisation</div>
<div class="b" style="left:1392px;top:1086px;width:76px">Secteur syndical</div>
<div class="b" style="left:1464px;top:939px;width:102px">Conférence de quartier</div>
<div class="t" style="left:1500px;top:961px">Elit</div>
<div class="b" style="left:1486px;top:988px;width:60px">Organisation<br>de quartier</div>
<div class="b" style="left:1468px;top:1028px;width:96px">Direction de quartier</div>
</div></body></html>
